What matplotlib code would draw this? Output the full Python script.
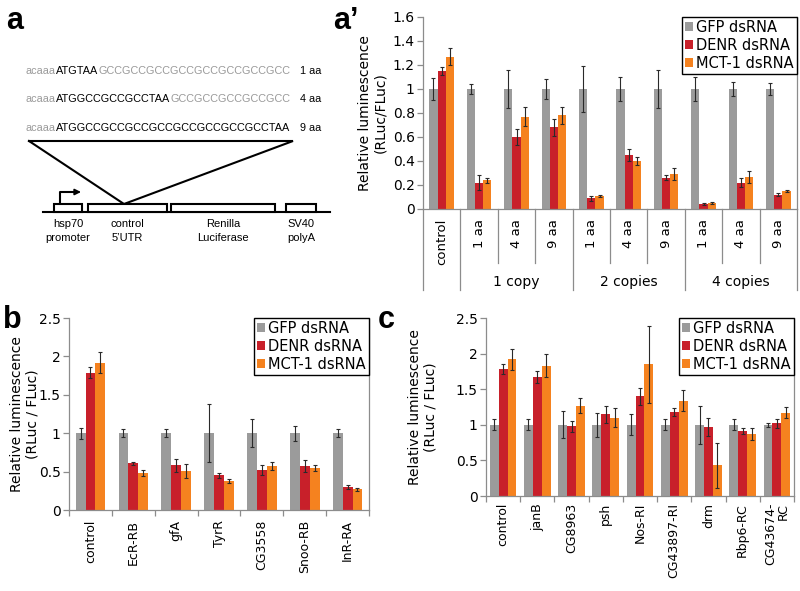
import numpy as np
import matplotlib
matplotlib.use("Agg")
import matplotlib.pyplot as plt
from matplotlib.patches import Rectangle
from matplotlib.ticker import FuncFormatter

plt.rcParams['font.family'] = ['DejaVu Sans']

# ---------------- data ----------------
series_names = ['GFP dsRNA', 'DENR dsRNA', 'MCT-1 dsRNA']
series_colors = ['#9b9b9b', '#c8202a', '#f5821f']

# panel a'
labels_a = ['control', '1 aa', '4 aa', '9 aa', '1 aa', '4 aa', '9 aa', '1 aa', '4 aa', '9 aa']
groups_a = ['1 copy', '2 copies', '4 copies']
gfp_a = [1, 1, 1, 1, 1, 1, 1, 1, 1, 1]
gfp_a_err = [0.09, 0.04, 0.16, 0.08, 0.19, 0.10, 0.16, 0.10, 0.06, 0.05]
denr_a = [1.15, 0.22, 0.60, 0.68, 0.09, 0.45, 0.26, 0.04, 0.22, 0.12]
denr_a_err = [0.03, 0.06, 0.07, 0.07, 0.02, 0.05, 0.02, 0.01, 0.04, 0.01]
mct_a = [1.27, 0.24, 0.77, 0.78, 0.11, 0.40, 0.29, 0.05, 0.27, 0.15]
mct_a_err = [0.07, 0.02, 0.08, 0.07, 0.01, 0.03, 0.05, 0.01, 0.05, 0.01]

# panel b
cats_b = ['control', 'EcR-RB', 'gfA', 'TyrR', 'CG3558', 'Snoo-RB', 'InR-RA']
gfp_b = [1, 1, 1, 1, 1, 1, 1]
gfp_b_err = [0.07, 0.05, 0.05, 0.38, 0.18, 0.10, 0.05]
denr_b = [1.79, 0.61, 0.58, 0.45, 0.52, 0.57, 0.30]
denr_b_err = [0.07, 0.02, 0.08, 0.03, 0.06, 0.08, 0.03]
mct_b = [1.92, 0.48, 0.51, 0.38, 0.57, 0.55, 0.27]
mct_b_err = [0.14, 0.04, 0.09, 0.03, 0.05, 0.04, 0.02]

# panel c
cats_c = ['control', 'janB', 'CG8963', 'psh', 'Nos-RI', 'CG43897-RI', 'drm', 'Rbp6-RC', 'CG43674-\nRC']
gfp_c = [1, 1, 1, 1, 1, 1, 1, 1, 1]
gfp_c_err = [0.08, 0.08, 0.19, 0.17, 0.15, 0.08, 0.27, 0.08, 0.03]
denr_c = [1.79, 1.67, 0.98, 1.15, 1.40, 1.18, 0.97, 0.91, 1.02]
denr_c_err = [0.07, 0.08, 0.08, 0.12, 0.12, 0.06, 0.13, 0.04, 0.06]
mct_c = [1.92, 1.83, 1.27, 1.10, 1.85, 1.34, 0.43, 0.87, 1.17]
mct_c_err = [0.15, 0.16, 0.11, 0.13, 0.54, 0.15, 0.32, 0.08, 0.08]

# sequences for panel a (gray, black, gray segments)
seq_rows = [
    ('acaaa', 'ATGTAA', 'GCCGCCGCCGCCGCCGCCGCCGCC', '1 aa'),
    ('acaaa', 'ATGGCCGCCGCCTAA', 'GCCGCCGCCGCCGCC', '4 aa'),
    ('acaaa', 'ATGGCCGCCGCCGCCGCCGCCGCCGCCTAA', '', '9 aa'),
]
elements = [('hsp70\npromoter', 54, 82), ('control\n5’UTR', 88, 167),
            ('Renilla\nLuciferase', 171, 275), ('SV40\npolyA', 286, 316)]

W, H = 800, 591
fig = plt.figure(figsize=(8, 5.91), dpi=100)

def rect(l, t, r, b):
    return [l / W, 1 - b / H, (r - l) / W, (b - t) / H]

AX_GRAY = '#8c8c8c'
fmt = FuncFormatter(lambda v, p: '{:g}'.format(round(v, 2)))

# overlay for diagram and panel letters
ov = fig.add_axes([0, 0, 1, 1])
ov.set_xlim(0, W)
ov.set_ylim(H, 0)
ov.axis('off')
ov.patch.set_visible(False)

arial = 'Liberation Sans'
ov.text(6, 29, 'a', fontsize=22, fontweight='bold', family=arial, va='baseline')
ov.text(333, 29, 'a’', fontsize=22, fontweight='bold', family=arial, va='baseline')
ov.text(3, 328, 'b', fontsize=22, fontweight='bold', family=arial, va='baseline')
ov.text(378, 328, 'c', fontsize=22, fontweight='bold', family=arial, va='baseline')

# sequences
for i, (g1, b1, g2, lab) in enumerate(seq_rows):
    y = 76 + i * 28.5
    t = ov.text(26, y, g1, color='#9a9a9a', fontsize=7.8, family=arial, va='bottom')
    t = ov.annotate(b1, xy=(1, 0), xycoords=t, color='black', fontsize=7.8, family=arial, va='bottom')
    if g2:
        t = ov.annotate(g2, xy=(1, 0), xycoords=t, color='#9a9a9a', fontsize=7.8, family=arial, va='bottom')
    ov.text(300, y, lab, color='black', fontsize=7.8, family=arial, va='bottom')

# triangle
ov.plot([29, 293, 124, 29], [141, 141, 204, 141], color='black', lw=1.5, solid_joinstyle='miter')
# baseline
ov.plot([43, 330], [212, 212], color='black', lw=1.5)
for name, l, r in elements:
    ov.add_patch(Rectangle((l, 204), r - l, 8, facecolor='white', edgecolor='black', lw=1.5, zorder=3))
    ov.text((l + r) / 2, 231, name, ha='center', va='center', fontsize=8, family=arial,
            linespacing=1.45)
# promoter arrow
ov.plot([60, 60, 74], [204, 192, 192], color='black', lw=1.5)
ov.annotate('', xy=(81, 192), xytext=(70, 192),
            arrowprops=dict(arrowstyle='-|>', color='black', lw=1.2, mutation_scale=9,
                            shrinkA=0, shrinkB=0))


def draw_bars(ax, n, vals, errs, width):
    x = np.arange(n)
    for i, (v, e, col, name) in enumerate(zip(vals, errs, series_colors, series_names)):
        ax.bar(x + (i - 1) * width, v, width, color=col, label=name, yerr=e,
               error_kw=dict(ecolor='#2a2a2a', elinewidth=0.8, capsize=1.6, capthick=0.8),
               zorder=2)
    ax.set_xlim(-0.5, n - 0.5)


def style_axes(ax, ymax, ystep):
    ax.set_ylim(0, ymax)
    ax.set_yticks(np.arange(0, ymax + 1e-9, ystep))
    ax.yaxis.set_major_formatter(fmt)
    for s in ['left', 'bottom', 'right']:
        ax.spines[s].set_color(AX_GRAY)
        ax.spines[s].set_linewidth(0.9)
    ax.spines['top'].set_visible(False)
    ax.tick_params(axis='y', colors=AX_GRAY, labelcolor='black', labelsize=10, length=4,
                   width=0.9, pad=2)
    ax.patch.set_visible(False)


def legend(ax):
    lg = ax.legend(loc='upper right', bbox_to_anchor=(1.0, 1.0), borderaxespad=0,
                   frameon=True, fancybox=False, edgecolor='black', framealpha=1,
                   fontsize=10.5, handlelength=0.55, handleheight=0.55, handletextpad=0.25,
                   borderpad=0.2, labelspacing=0.2)
    lg.get_frame().set_linewidth(1.0)


# ---------------- panel a' ----------------
axa = fig.add_axes(rect(423, 17, 797, 209))
na = len(labels_a)
draw_bars(axa, na, [gfp_a, denr_a, mct_a], [gfp_a_err, denr_a_err, mct_a_err], 0.22)
style_axes(axa, 1.6, 0.2)
axa.set_xticks(np.arange(na))
axa.set_xticklabels(labels_a, rotation=90, fontsize=9.5)
axa.tick_params(axis='x', length=0, pad=7)
axa.set_ylabel('Relative luminescence\n(RLuc/FLuc)', fontsize=10, linespacing=1.1)
axa.yaxis.set_label_coords((387 - 423) / 374, 0.5)
legend(axa)
hpx = 192.0
short = -(263 - 209) / hpx
long_ = -(290 - 209) / hpx
tr = axa.get_xaxis_transform()
for b in [0.5, 1.5, 2.5, 3.5, 4.5, 5.5, 6.5, 7.5, 8.5, 9.5, -0.5]:
    lo = long_ if b in (-0.5, 0.5, 3.5, 6.5, 9.5) else short
    axa.plot([b, b], [0, lo], transform=tr, color=AX_GRAY, lw=0.9, clip_on=False)
for gi, g in enumerate(groups_a):
    axa.text(2 + gi * 3, -(282 - 209) / hpx, g, transform=tr, ha='center', va='center', fontsize=10)

# ---------------- panel b ----------------
axb = fig.add_axes(rect(69, 318, 369, 510))
nb = len(cats_b)
draw_bars(axb, nb, [gfp_b, denr_b, mct_b], [gfp_b_err, denr_b_err, mct_b_err], 0.23)
style_axes(axb, 2.5, 0.5)
axb.set_xticks(np.arange(nb))
axb.set_xticklabels(cats_b, rotation=90, fontsize=9)
axb.set_xticks(np.arange(nb + 1) - 0.5, minor=True)
axb.tick_params(axis='x', which='major', length=0, pad=7)
axb.tick_params(axis='x', which='minor', length=4, color=AX_GRAY, width=0.9)
axb.set_ylabel('Relative luminescence\n(RLuc / FLuc)', fontsize=10, linespacing=1.1)
axb.yaxis.set_label_coords((39 - 69) / 300, 0.5)
legend(axb)

# ---------------- panel c ----------------
axc = fig.add_axes(rect(486, 318, 794, 496))
nc = len(cats_c)
draw_bars(axc, nc, [gfp_c, denr_c, mct_c], [gfp_c_err, denr_c_err, mct_c_err], 0.26)
style_axes(axc, 2.5, 0.5)
axc.set_xticks(np.arange(nc))
axc.set_xticklabels(cats_c, rotation=90, fontsize=9, linespacing=1.0)
for t in axc.get_xticklabels():
    t.set_multialignment('right')
axc.set_xticks(np.arange(nc + 1) - 0.5, minor=True)
axc.tick_params(axis='x', which='major', length=0, pad=5)
axc.tick_params(axis='x', which='minor', length=4, color=AX_GRAY, width=0.9)
axc.set_ylabel('Relative luminescence\n(RLuc / FLuc)', fontsize=10, linespacing=1.1)
axc.yaxis.set_label_coords((437 - 486) / 308, 0.5)
legend(axc)

fig.savefig('out.png', dpi=100)
